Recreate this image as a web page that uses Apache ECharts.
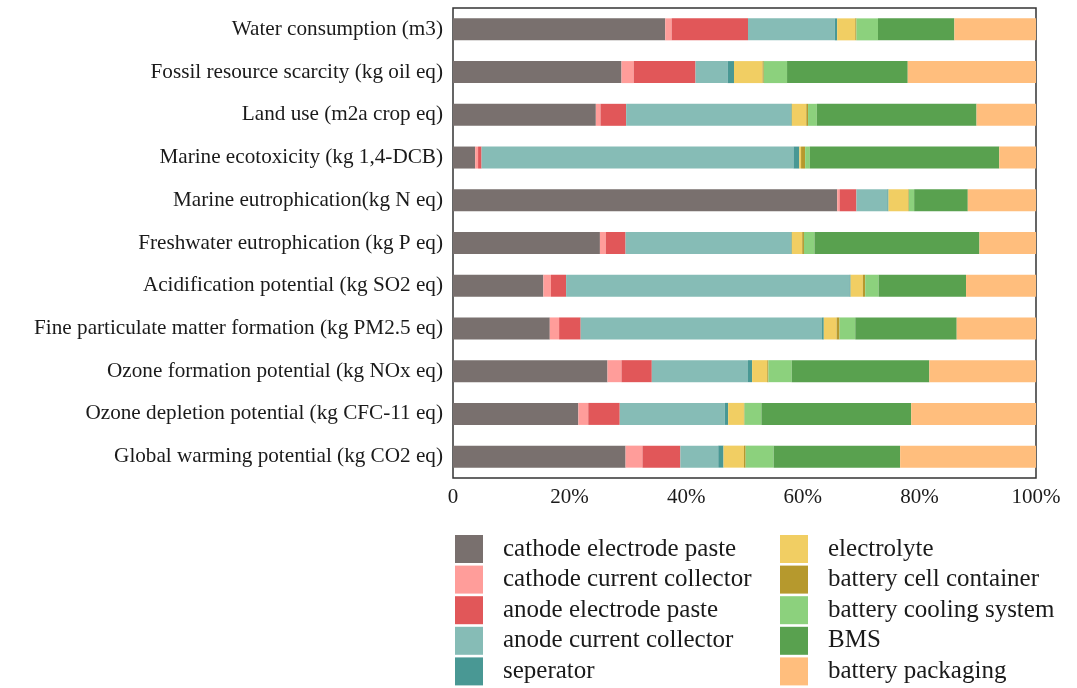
<!DOCTYPE html>
<html>
<head>
<meta charset="utf-8">
<script src="https://cdn.jsdelivr.net/npm/echarts@6/dist/echarts.min.js"></script>
<style>
  html, body { margin: 0; padding: 0; background: #fff; }
  #chart { width: 1077px; height: 688px; }
</style>
</head>
<body>
<div id="chart"></div>
<script>
// Impact categories, listed top to bottom
const categories = [
  'Water consumption (m3)',
  'Fossil resource scarcity (kg oil eq)',
  'Land use (m2a crop eq)',
  'Marine ecotoxicity (kg 1,4-DCB)',
  'Marine eutrophication(kg N eq)',
  'Freshwater eutrophication (kg P eq)',
  'Acidification potential (kg SO2 eq)',
  'Fine particulate matter formation (kg PM2.5 eq)',
  'Ozone formation potential (kg NOx eq)',
  'Ozone depletion potential (kg CFC-11 eq)',
  'Global warming potential (kg CO2 eq)'
];

// Share of each component in every category (%), same order as categories
const cathodeElectrodePaste   = [36.4, 28.9, 24.5,  3.8, 65.9, 25.2, 15.5, 16.6, 26.5, 21.5, 29.6];
const cathodeCurrentCollector = [ 1.1,  2.1,  0.8,  0.5,  0.4,  1.0,  1.3,  1.6,  2.4,  1.7,  2.9];
const anodeElectrodePaste     = [13.1, 10.6,  4.4,  0.6,  2.9,  3.4,  2.6,  3.7,  5.2,  5.4,  6.5];
const anodeCurrentCollector   = [14.9,  5.5, 28.2, 53.5,  5.3, 28.3, 48.6, 41.4, 16.5, 18.0,  6.5];
const seperator               = [ 0.4,  1.1,  0.2,  1.0,  0.2,  0.2,  0.2,  0.3,  0.7,  0.6,  0.9];
const electrolyte             = [ 3.1,  4.9,  2.5,  0.3,  3.4,  1.8,  2.1,  2.2,  2.6,  2.7,  3.5];
const batteryCellContainer    = [ 0.2,  0.2,  0.3,  0.7,  0.1,  0.3,  0.4,  0.5,  0.2,  0.1,  0.3];
const batteryCoolingSystem    = [ 3.7,  4.0,  1.5,  0.8,  0.9,  1.8,  2.3,  2.7,  4.0,  2.9,  4.8];
const bms                     = [13.1, 20.7, 27.4, 32.5,  9.2, 28.3, 15.0, 17.4, 23.6, 25.7, 21.7];
const batteryPackaging        = [14.0, 22.0, 10.2,  6.3, 11.7,  9.7, 12.0, 13.6, 18.3, 21.4, 23.3];

const seriesNames = [
  'cathode electrode paste', 'cathode current collector', 'anode electrode paste',
  'anode current collector', 'seperator', 'electrolyte', 'battery cell container',
  'battery cooling system', 'BMS', 'battery packaging'
];
const seriesValues = [
  cathodeElectrodePaste, cathodeCurrentCollector, anodeElectrodePaste,
  anodeCurrentCollector, seperator, electrolyte, batteryCellContainer,
  batteryCoolingSystem, bms, batteryPackaging
];
const colors = [
  '#79706e', '#ff9d9a', '#e15759', '#86bcb6', '#499894',
  '#f1ce63', '#b6992d', '#8cd17d', '#59a14f', '#ffbe7d'
];

const xTicks = [0, 20, 40, 60, 80, 100];
const fontFamily = '"Liberation Serif", "Times New Roman", serif';
const textColor = '#1a1a1a';

const chart = echarts.init(document.getElementById('chart'), null, { renderer: 'canvas' });

// Two five-row legend columns below the plot
const legendBase = {
  orient: 'vertical',
  top: 535,
  height: 160,
  padding: 0,
  itemWidth: 28,
  itemHeight: 28,
  itemGap: 2.6,
  icon: 'rect',
  selectedMode: false,
  textStyle: {
    fontFamily: fontFamily,
    fontSize: 25,
    color: textColor,
    padding: [0, 0, 0, 15]
  }
};

chart.setOption({
  animation: false,
  backgroundColor: '#ffffff',
  color: colors,
  grid: {
    left: 453,
    right: 41,
    top: 8,
    bottom: 210,
    show: true,
    borderColor: '#333333',
    borderWidth: 1.5,
    containLabel: false
  },
  legend: [
    Object.assign({}, legendBase, { left: 455, data: seriesNames.slice(0, 5) }),
    Object.assign({}, legendBase, { left: 780, data: seriesNames.slice(5) })
  ],
  xAxis: {
    type: 'value',
    min: xTicks[0],
    max: xTicks[xTicks.length - 1],
    interval: 20,
    axisLine: { show: false },
    axisTick: { show: false },
    splitLine: { show: false },
    axisLabel: {
      margin: 9,
      fontFamily: fontFamily,
      fontSize: 21,
      color: textColor,
      formatter: v => (v === 0 ? '0' : v + '%')
    }
  },
  yAxis: {
    type: 'category',
    inverse: true,
    data: categories,
    axisLine: { show: false },
    axisTick: { show: false },
    axisLabel: {
      margin: 10,
      fontFamily: fontFamily,
      fontSize: 21.2,
      color: textColor
    }
  },
  series: seriesNames.map((name, i) => ({
    name: name,
    type: 'bar',
    stack: 'total',
    barWidth: 22,
    data: seriesValues[i],
    itemStyle: { color: colors[i] }
  }))
});
</script>
</body>
</html>
